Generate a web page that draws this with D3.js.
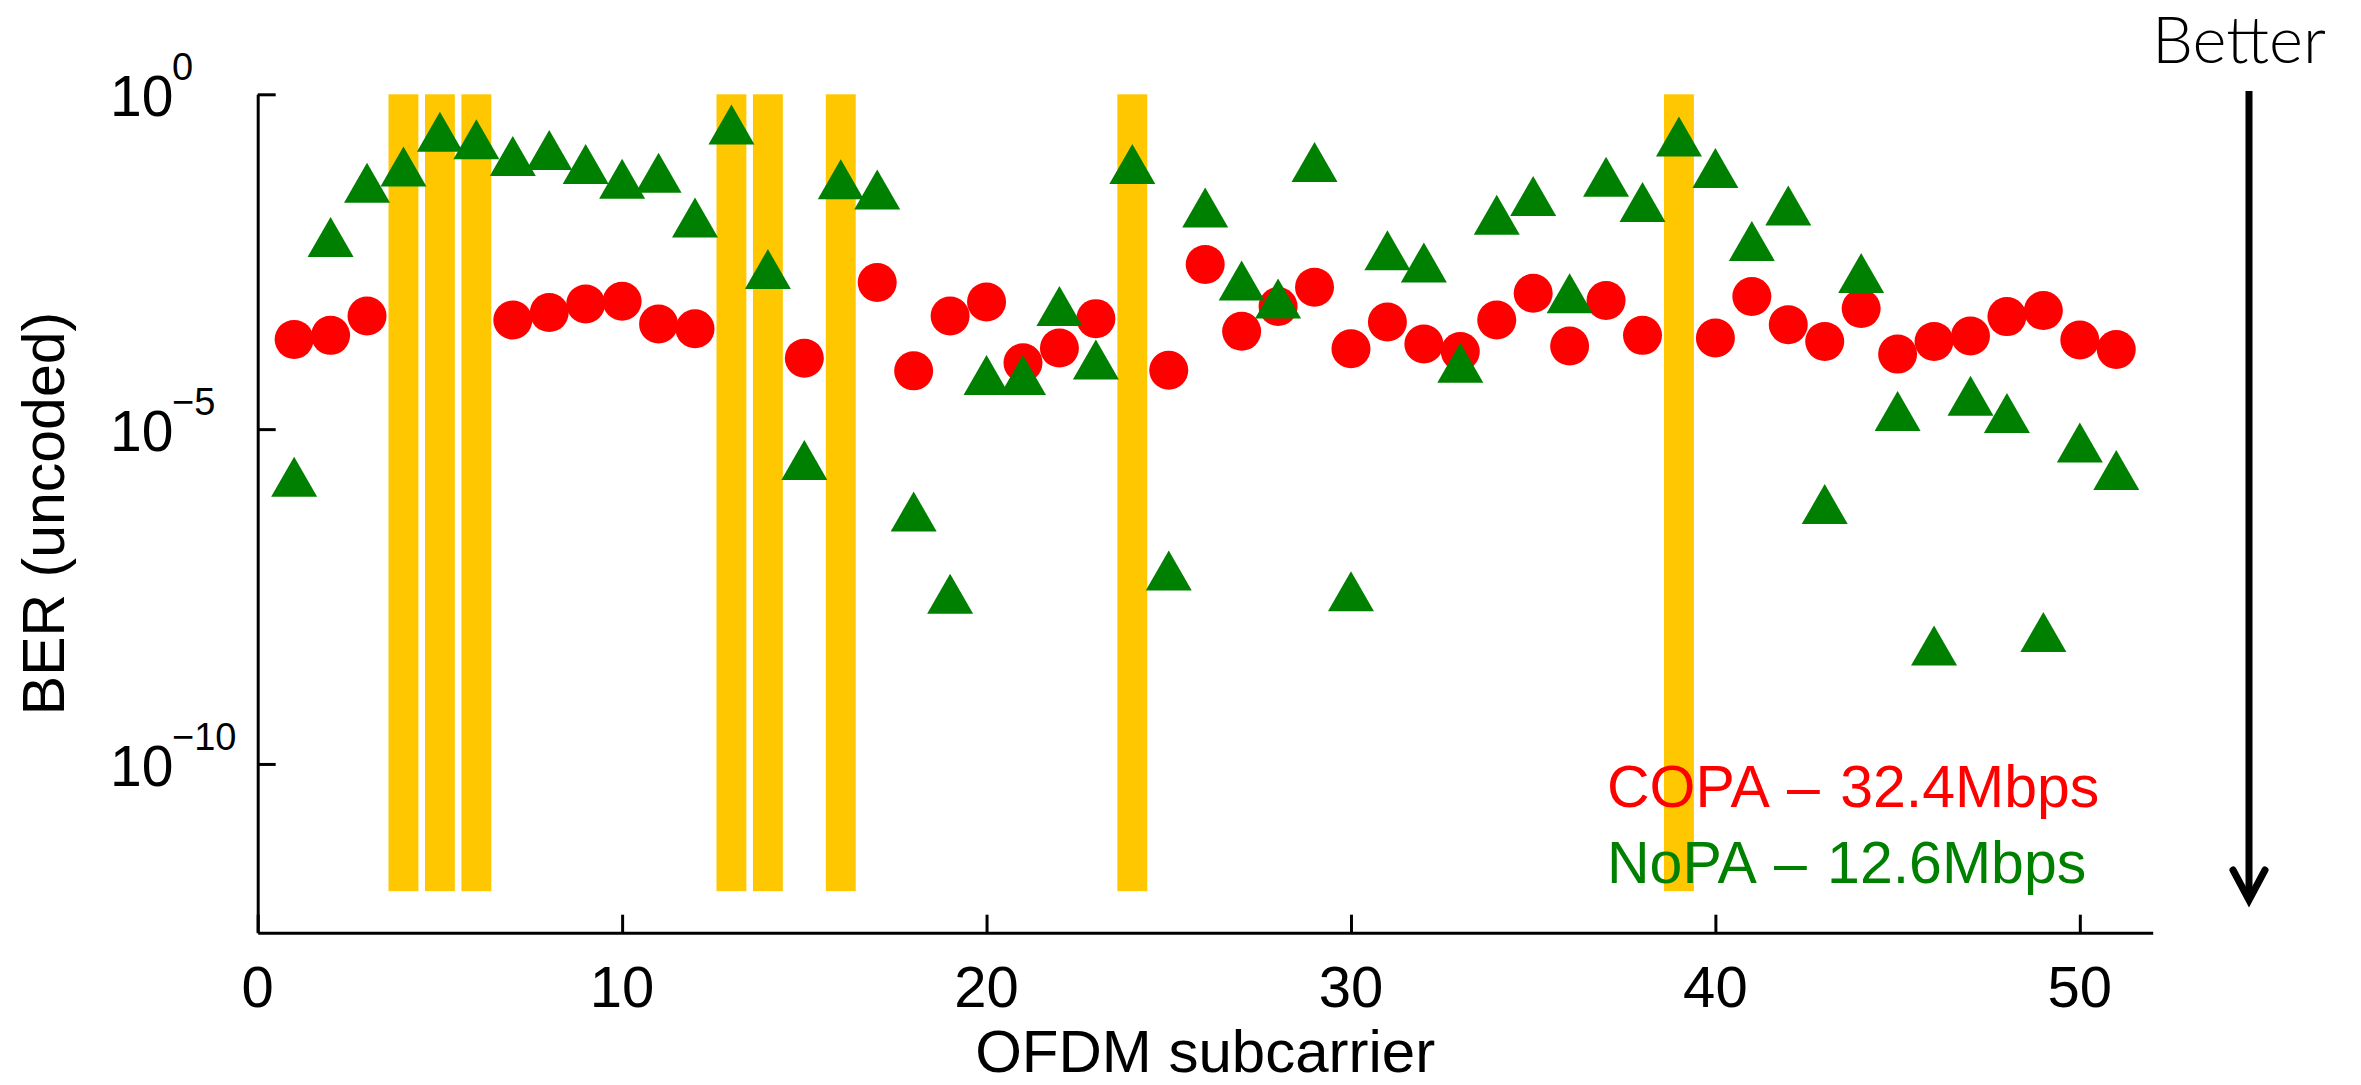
<!DOCTYPE html>
<html>
<head>
<meta charset="utf-8">
<script src="https://cdn.jsdelivr.net/npm/d3@7"></script>
<style>
  html, body { margin: 0; padding: 0; background: #fff; }
  svg { display: block; font-family: "Liberation Sans", Arial, sans-serif; }
</style>
</head>
<body>
<div id="chart"></div>
<script>
// OFDM subcarrier index (categories)
const subcarriers = d3.range(1, 52);

// log10(BER) per subcarrier; null = no marker
const copaLog10 = [
  -3.66, -3.60, -3.31, null, null, null, -3.37, -3.26, -3.13, -3.09,
  -3.43, -3.50, null, null, -3.94, null, -2.81, -4.13, -3.31, -3.10,
  -4.01, -3.79, -3.35, null, -4.12, -2.54, -3.54, -3.17, -2.88, -3.80,
  -3.40, -3.73, -3.84, -3.37, -2.97, -3.76, -3.08, -3.60, null, -3.64,
  -3.02, -3.44, -3.69, -3.20, -3.88, -3.69, -3.61, -3.32, -3.23, -3.67,
  -3.81
];
const nopaLog10 = [
  -5.71, -2.13, -1.32, -1.08, -0.56, -0.67, -0.92, -0.83, -1.04, -1.26,
  -1.17, -1.84, -0.45, -2.61, -5.46, -1.27, -1.42, -6.23, -7.46, -4.19,
  -4.19, -3.16, -3.96, -1.04, -7.11, -1.69, -2.78, -3.05, -1.01, -7.42,
  -2.33, -2.51, -4.01, -1.80, -1.52, -2.97, -1.23, -1.61, -0.63, -1.10,
  -2.19, -1.66, -6.12, -2.67, -4.73, -8.23, -4.50, -4.76, -8.03, -5.20,
  -5.61
];

// highlighted subcarriers (yellow bars)
const markedSubcarriers = [4, 5, 6, 13, 14, 16, 24, 39];

const xTicks = [0, 10, 20, 30, 40, 50];
const yTicks = [1, 1e-5, 1e-10];
const yTickExp = ['0', '\u22125', '\u221210'];

const legendLabels = ['COPA \u2013 32.4Mbps', 'NoPA \u2013 12.6Mbps'];

const W = 2361, H = 1085;
const m = { top: 94.3, right: 208.3, bottom: 152.3, left: 257.7 };
const w = W - m.left - m.right;
const h = H - m.top - m.bottom;

const RED = '#ff0000', GREEN = '#008000', GOLD = '#ffc700';

const svg = d3.select('#chart').append('svg')
  .attr('width', W).attr('height', H);
const g = svg.append('g').attr('transform', `translate(${m.left},${m.top})`);

const x = d3.scaleLinear().domain([0, 52]).range([0, w]);
const y = d3.scaleLog().domain([Math.pow(10, -12.52), 1]).range([h, 0]);

// Yellow bars
const barW = x(0.82) - x(0);
g.selectAll('rect.mark')
  .data(markedSubcarriers)
  .join('rect')
  .attr('class', 'mark')
  .attr('x', d => x(d) - barW / 2)
  .attr('y', y(1))
  .attr('width', barW)
  .attr('height', y(Math.pow(10, -11.9)) - y(1))
  .attr('fill', GOLD);

// Axes (ticks pointing inward)
const xAxis = g.append('g').attr('transform', `translate(0,${h})`)
  .call(d3.axisBottom(x).tickValues(xTicks).tickSize(-18).tickSizeOuter(0).tickFormat(''));
const yAxis = g.append('g')
  .call(d3.axisLeft(y).tickValues(yTicks).tickSize(-18).tickSizeOuter(0).tickFormat(''));
[xAxis, yAxis].forEach(a => {
  a.selectAll('path, line').attr('stroke', '#000').attr('stroke-width', 3);
});

// x tick labels
g.selectAll('text.xt')
  .data(xTicks)
  .join('text')
  .attr('class', 'xt')
  .attr('x', d => x(d))
  .attr('y', h + 74)
  .attr('text-anchor', 'middle')
  .attr('font-size', 58)
  .text(d => d);

// y tick labels: 10 with superscript
const yt = g.selectAll('g.yt')
  .data(yTicks)
  .join('g')
  .attr('class', 'yt')
  .attr('transform', d => `translate(${110 - m.left},${y(d)})`);
yt.append('text')
  .attr('y', 22)
  .attr('font-size', 57)
  .text('10');
yt.append('text')
  .attr('x', 62)
  .attr('y', -14)
  .attr('font-size', 38)
  .text((d, i) => yTickExp[i]);

// Axis titles
g.append('text')
  .attr('x', w / 2).attr('y', h + 139)
  .attr('text-anchor', 'middle')
  .attr('font-size', 60)
  .text('OFDM subcarrier');
g.append('text')
  .attr('transform', `translate(${64 - m.left},${h / 2}) rotate(-90)`)
  .attr('text-anchor', 'middle')
  .attr('font-size', 59)
  .text('BER (uncoded)');

// COPA circles
const copa = subcarriers.map((s, i) => ({ s, v: copaLog10[i] })).filter(d => d.v !== null);
g.selectAll('circle.copa')
  .data(copa)
  .join('circle')
  .attr('class', 'copa')
  .attr('cx', d => x(d.s))
  .attr('cy', d => y(Math.pow(10, d.v)))
  .attr('r', 19.5)
  .attr('fill', RED);

// NoPA triangles
const nopa = subcarriers.map((s, i) => ({ s, v: nopaLog10[i] }));
g.selectAll('path.nopa')
  .data(nopa)
  .join('path')
  .attr('class', 'nopa')
  .attr('transform', d => `translate(${x(d.s)},${y(Math.pow(10, d.v))})`)
  .attr('d', 'M0,-20L23,20L-23,20Z')
  .attr('fill', GREEN);

// Legend text
g.selectAll('text.leg')
  .data(legendLabels)
  .join('text')
  .attr('class', 'leg')
  .attr('x', 1607 - m.left)
  .attr('y', (d, i) => 806.7 - m.top + i * 76)
  .attr('font-size', 59)
  .attr('word-spacing', 4)
  .attr('fill', (d, i) => i === 0 ? RED : GREEN)
  .text(d => d);

// "Better" arrow
const ax = 2249;
svg.append('text')
  .attr('x', ax - 10).attr('y', 63)
  .attr('text-anchor', 'middle')
  .attr('font-family', 'Lato, "Open Sans", sans-serif')
  .attr('font-weight', 300)
  .attr('font-size', 65)
  .text('Better');
svg.append('line')
  .attr('x1', ax).attr('x2', ax)
  .attr('y1', 91).attr('y2', 900)
  .attr('stroke', '#000').attr('stroke-width', 7);
svg.append('path')
  .attr('d', `M${ax - 16},870L${ax},900L${ax + 16},870`)
  .attr('fill', 'none')
  .attr('stroke', '#000').attr('stroke-width', 7)
  .attr('stroke-linecap', 'round').attr('stroke-linejoin', 'miter');
</script>
</body>
</html>
